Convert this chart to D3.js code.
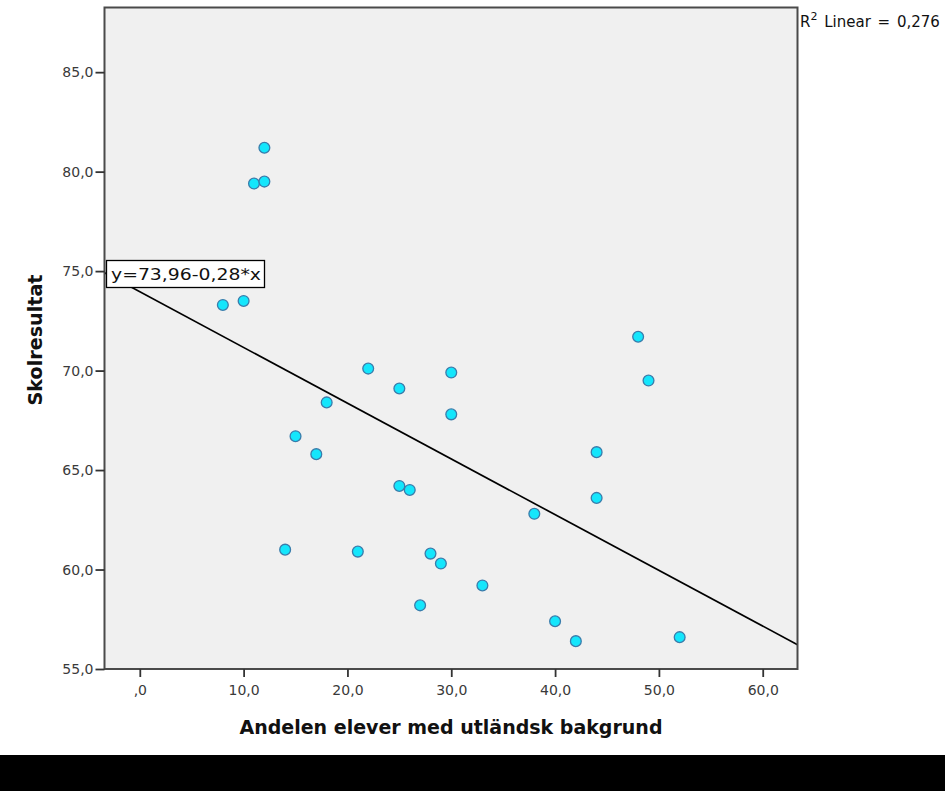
<!DOCTYPE html>
<html><head><meta charset="utf-8">
<script src="https://cdn.jsdelivr.net/npm/d3@7"></script>
<style>body{margin:0;background:#fff}svg{display:block}</style>
</head><body>
<svg id="c" width="945" height="791"></svg>
<script>
const xValues = [8,10,11,12,12,14,15,17,18,21,22,25,25,26,27,28,29,30,30,33,38,40,42,44,44,48,49,52];
const yValues = [73.3,73.5,79.4,79.5,81.2,61.0,66.7,65.8,68.4,60.9,70.1,69.1,64.2,64.0,58.2,60.8,60.3,69.9,67.8,59.2,62.8,57.4,56.4,65.9,63.6,71.7,69.5,56.6];
const xTicks = [0,10,20,30,40,50,60];
const yTicks = [55,60,65,70,75,80,85];
const intercept = 73.96, slope = -0.28, r2 = "0,276";
const xTitle = "Andelen elever med utländsk bakgrund";
const yTitle = "Skolresultat";

const svg = d3.select("#c");
const L=104.5, R=797.5, T=7.5, B=669;
const x = d3.scaleLinear().domain([-3.4,63.35]).range([L,R]);
const y = d3.scaleLinear().domain([55,88.25]).range([B,T]);
const fmt = v => v===0 ? ",0" : v.toFixed(1).replace(".",",");

svg.append("rect").attr("x",0).attr("y",755).attr("width",945).attr("height",36).attr("fill","#000");
svg.append("rect").attr("x",L).attr("y",T).attr("width",R-L).attr("height",B-T).attr("fill","#f0f0f0");

svg.append("clipPath").attr("id","pc").append("rect").attr("x",L).attr("y",T).attr("width",R-L).attr("height",B-T);
const [x0,x1] = x.domain();
svg.append("line").attr("clip-path","url(#pc)")
  .attr("x1",x(x0)).attr("y1",y(intercept+slope*x0))
  .attr("x2",x(x1)).attr("y2",y(intercept+slope*x1))
  .attr("stroke","#000").attr("stroke-width",1.7);

svg.append("g").selectAll("circle").data(xValues.map((d,i)=>[d,yValues[i]])).join("circle")
  .attr("cx",d=>x(d[0])).attr("cy",d=>y(d[1])).attr("r",5.4)
  .attr("fill","#14e6fc").attr("stroke","#3a7cab").attr("stroke-width",1.3);

svg.append("rect").attr("x",L).attr("y",T).attr("width",R-L).attr("height",B-T)
  .attr("fill","none").attr("stroke","#4a4a4a").attr("stroke-width",2);

const ya = svg.append("g").attr("transform",`translate(${L},0)`)
  .call(d3.axisLeft(y).tickValues(yTicks).tickFormat(fmt).tickSize(9).tickSizeOuter(0));
ya.select(".domain").remove();
ya.selectAll("line").attr("stroke","#333").attr("stroke-width",1.8);
ya.selectAll("text").attr("fill","#3a3a3a").attr("font-family","DejaVu Sans").attr("font-size",14).attr("x",-11);

const xa = svg.append("g").attr("transform",`translate(0,${B})`)
  .call(d3.axisBottom(x).tickValues(xTicks).tickFormat(fmt).tickSize(8).tickSizeOuter(0));
xa.select(".domain").remove();
xa.selectAll("line").attr("stroke","#333").attr("stroke-width",1.8);
xa.selectAll("text").attr("fill","#3a3a3a").attr("font-family","DejaVu Sans").attr("font-size",14).attr("y",16);

svg.append("text").attr("x",451).attr("y",734).attr("text-anchor","middle")
  .attr("font-family","DejaVu Sans").attr("font-weight","bold").attr("font-size",19).attr("fill","#111")
  .attr("textLength",423).attr("lengthAdjust","spacingAndGlyphs").text(xTitle);
svg.append("text").attr("transform","translate(42,340) rotate(-90)").attr("text-anchor","middle")
  .attr("font-family","DejaVu Sans").attr("font-weight","bold").attr("font-size",19).attr("fill","#111")
  .attr("textLength",131).attr("lengthAdjust","spacingAndGlyphs").text(yTitle);

// equation box
const eqText = "y=" + intercept.toFixed(2).replace(".",",") + "-" + Math.abs(slope).toFixed(2).replace(".",",") + "*x";
svg.append("rect").attr("x",106.5).attr("y",260.5).attr("width",158).attr("height",27)
  .attr("fill","#fff").attr("stroke","#000").attr("stroke-width",1.3);
svg.append("text").attr("x",111).attr("y",280).attr("font-family","DejaVu Sans").attr("font-size",15.5).attr("fill","#111")
  .attr("textLength",150).attr("lengthAdjust","spacingAndGlyphs").text(eqText);

// R2 label
const r = svg.append("text").attr("x",800).attr("y",27).attr("font-family","DejaVu Sans").attr("font-size",15).attr("fill","#111").attr("word-spacing",2);
r.append("tspan").text("R");
r.append("tspan").attr("dy",-7).attr("font-size",11).text("2");
r.append("tspan").attr("dy",7).text(" Linear = " + r2);
</script>
</body></html>
